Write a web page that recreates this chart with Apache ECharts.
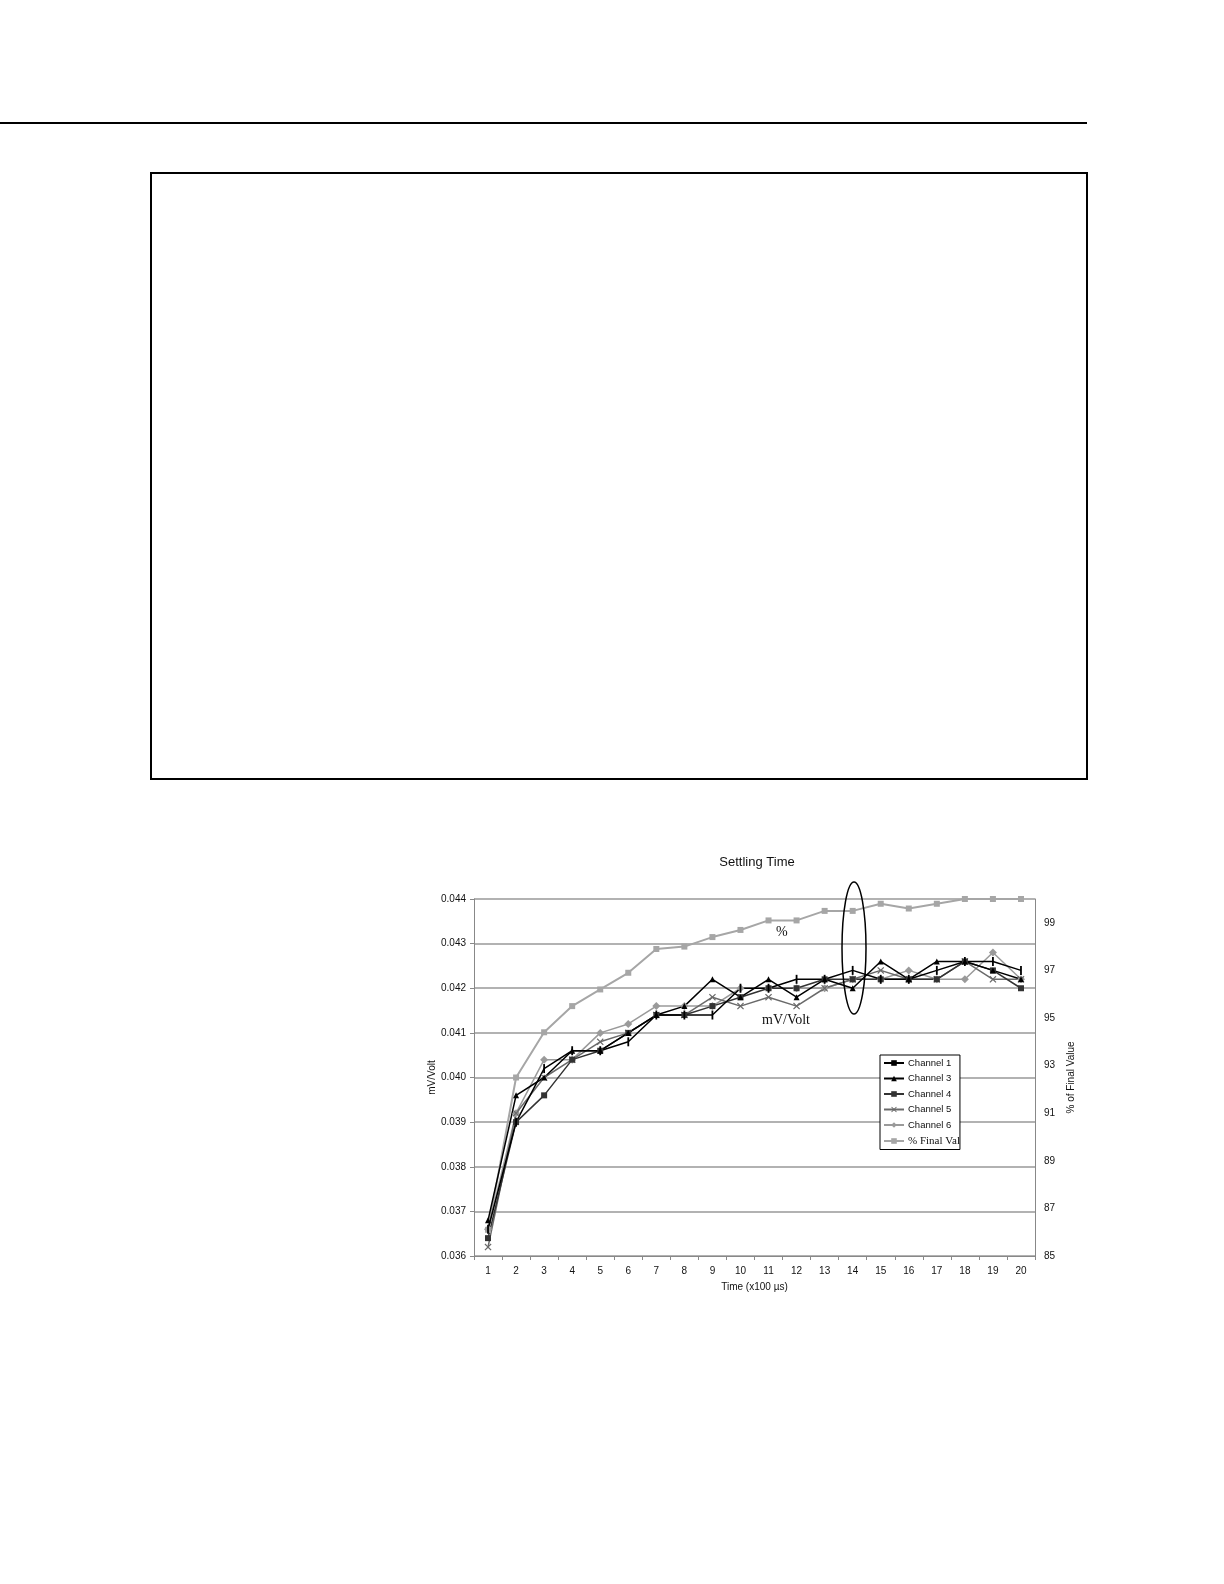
<!DOCTYPE html>
<html>
<head>
<meta charset="utf-8">
<script src="https://cdn.jsdelivr.net/npm/echarts@6/dist/echarts.min.js"></script>
<style>
  html, body { margin: 0; padding: 0; background: #fff; }
  #page { position: relative; width: 1224px; height: 1584px; }
  #rule { position: absolute; left: 0; top: 122px; width: 1087px; height: 2px; background: #000; }
  #box { position: absolute; left: 150px; top: 172px; width: 934px; height: 604px; border: 2px solid #000; }
  #chart { position: absolute; left: 0; top: 0; width: 1224px; height: 1584px; }
</style>
</head>
<body>
<div id="page">
  <div id="rule"></div>
  <div id="box"></div>
  <div id="chart"></div>
</div>
<script>
// time steps (x100 us)
var times = ['1','2','3','4','5','6','7','8','9','10','11','12','13','14','15','16','17','18','19','20'];

// mV/Volt readings per channel
var channel1 = [0.0366,0.0390,0.0402,0.0406,0.0406,0.0408,0.0414,0.0414,0.0414,0.0420,0.0420,0.0422,0.0422,0.0424,0.0422,0.0422,0.0424,0.0426,0.0426,0.0424];
var channel3 = [0.0368,0.0396,0.0400,0.0406,0.0406,0.0410,0.0414,0.0416,0.0422,0.0418,0.0422,0.0418,0.0422,0.0420,0.0426,0.0422,0.0426,0.0426,0.0424,0.0422];
var channel4 = [0.0364,0.0390,0.0396,0.0404,0.0406,0.0410,0.0414,0.0414,0.0416,0.0418,0.0420,0.0420,0.0422,0.0422,0.0422,0.0422,0.0422,0.0426,0.0424,0.0420];
var channel5 = [0.0362,0.0392,0.0400,0.0404,0.0408,0.0410,0.0414,0.0414,0.0418,0.0416,0.0418,0.0416,0.0420,0.0422,0.0424,0.0422,0.0422,0.0426,0.0422,0.0422];
var channel6 = [0.0366,0.0392,0.0404,0.0404,0.0410,0.0412,0.0416,0.0416,0.0416,0.0420,0.0420,0.0420,0.0420,0.0422,0.0422,0.0424,0.0422,0.0422,0.0428,0.0422];

// % of final value (right axis)
var pctFinal = [86.1,92.5,94.4,95.5,96.2,96.9,97.9,98.0,98.4,98.7,99.1,99.1,99.5,99.5,99.8,99.6,99.8,100,100,100];

var xMark = 'path://M0,1.2 L1.2,0 L5,3.8 L8.8,0 L10,1.2 L6.2,5 L10,8.8 L8.8,10 L5,6.2 L1.2,10 L0,8.8 L3.8,5 Z';
var font = 'Liberation Sans';

var chart = echarts.init(document.getElementById('chart'));

function line(name, data, color, symbol, size, width, axis) {
    return {
        name: name,
        type: 'line',
        yAxisIndex: axis || 0,
        data: data,
        symbol: symbol,
        symbolSize: size,
        showAllSymbol: true,
        lineStyle: { color: color, width: width },
        itemStyle: { color: color },
        emphasis: { disabled: true },
        animation: false
    };
}

chart.setOption({
    animation: false,
    textStyle: { fontFamily: font },
    title: {
        text: 'Settling Time',
        left: 752, top: 851, textAlign: 'center',
        textStyle: { fontSize: 13, fontWeight: 'normal', color: '#111', fontFamily: font }
    },
    grid: { left: 474, right: 189, top: 899, bottom: 328 },
    legend: {
        orient: 'vertical',
        left: 880, top: 1055,
        itemWidth: 20, itemHeight: 7, itemGap: 5.5,
        padding: [3, 0, 3, 3],
        borderColor: '#000', borderWidth: 1,
        backgroundColor: '#fff',
        textStyle: { fontSize: 9.5, color: '#111', fontFamily: font, padding: [0, 0, 0, -1] },
        data: ['Channel 1', 'Channel 3', 'Channel 4', 'Channel 5', 'Channel 6',
            { name: '% Final Val', textStyle: { fontFamily: 'Liberation Serif', fontSize: 11 } }]
    },
    xAxis: {
        type: 'category',
        data: times,
        name: 'Time (x100 µs)',
        nameLocation: 'middle', nameGap: 26,
        nameTextStyle: { fontSize: 10, color: '#111' },
        axisLine: { lineStyle: { color: '#888', width: 1 } },
        axisTick: { show: true, interval: 0, length: 4, lineStyle: { color: '#888' } },
        axisLabel: { fontSize: 10, color: '#111', margin: 10 }
    },
    yAxis: [{
        type: 'value',
        min: 0.036, max: 0.044, interval: 0.001,
        name: 'mV/Volt',
        nameLocation: 'middle', nameGap: 36, nameRotate: 90,
        nameTextStyle: { fontSize: 10, color: '#111' },
        axisLine: { show: true, lineStyle: { color: '#888', width: 1 } },
        axisTick: { show: true, length: 4, lineStyle: { color: '#888' } },
        axisLabel: { fontSize: 10, color: '#111', formatter: function (v) { return v.toFixed(3); } },
        splitLine: { lineStyle: { color: '#999', width: 1.5 } }
    }, {
        type: 'value',
        min: 85, max: 100, interval: 2,
        position: 'right',
        name: '% of Final Value',
        nameLocation: 'middle', nameGap: 31, nameRotate: 90,
        nameTextStyle: { fontSize: 10, color: '#111' },
        axisLine: { show: true, lineStyle: { color: '#888', width: 1 } },
        axisTick: { show: false },
        axisLabel: {
            fontSize: 10, color: '#111', margin: 9,
            formatter: function (v) { return v === 100 ? '' : String(v); }
        },
        splitLine: { show: false }
    }],
    series: [
        line('% Final Val', pctFinal, '#a6a6a6', 'rect', 6, 2, 1),
        line('Channel 6', channel6, '#9a9a9a', 'diamond', 8, 1.5),
        line('Channel 5', channel5, '#6a6a6a', xMark, 7, 1.5),
        line('Channel 4', channel4, '#333333', 'rect', 6, 1.5),
        line('Channel 3', channel3, '#000000', 'triangle', 6, 1.5),
        line('Channel 1', channel1, '#000000', 'rect', [1.8, 9], 1.5)
    ],
    graphic: [
        { type: 'ellipse', shape: { cx: 854, cy: 948, rx: 12, ry: 66 },
          style: { fill: 'none', stroke: '#000', lineWidth: 1.5 }, z: 100 },
        { type: 'text', left: 776, top: 925,
          style: { text: '%', font: '14px "Liberation Serif"', fill: '#111' }, z: 100 },
        { type: 'text', left: 762, top: 1013,
          style: { text: 'mV/Volt', font: '14px "Liberation Serif"', fill: '#111' }, z: 100 }
    ]
});
</script>
</body>
</html>
